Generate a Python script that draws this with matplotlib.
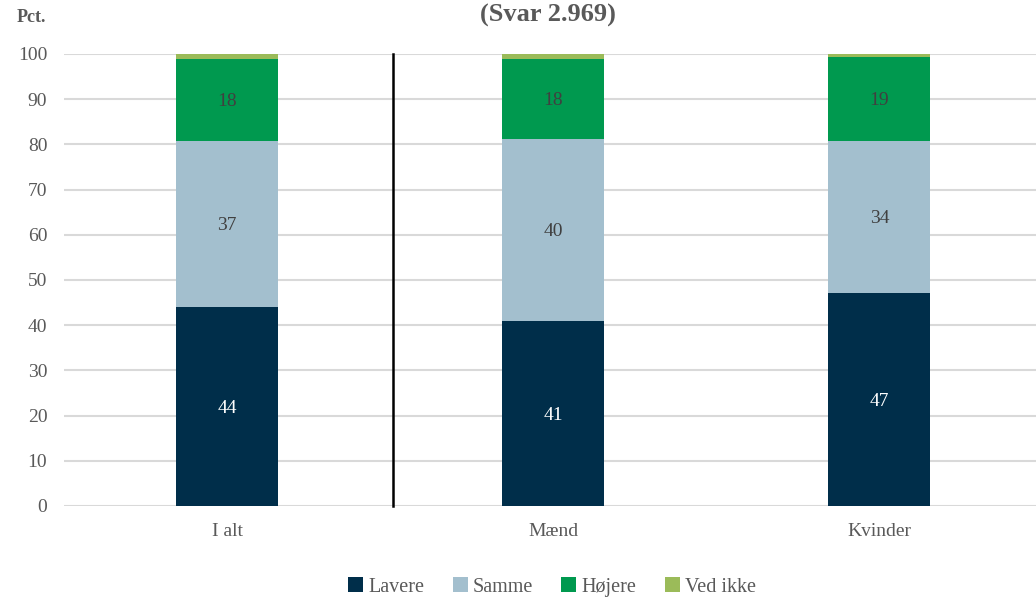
import matplotlib
matplotlib.use("Agg")
import matplotlib.pyplot as plt
import numpy as np

plt.rcParams['font.family'] = ['Liberation Serif', 'DejaVu Serif']

categories = ["I alt", "Mænd", "Kvinder"]
series_names = ["Lavere", "Samme", "Højere", "Ved ikke"]
lavere = [44.0, 40.9, 47.1]
samme = [36.8, 40.3, 33.6]
hojere = [18.1, 17.7, 18.7]
ved_ikke = [1.1, 1.1, 0.7]
colors = ["#002E4A", "#A3BFCE", "#00994F", "#9BBB59"]
label_colors = ["white", "#404040", "#404040", None]
yticks = [0, 10, 20, 30, 40, 50, 60, 70, 80, 90, 100]

fig = plt.figure(figsize=(10.36, 6.0), dpi=100)
ax = fig.add_axes([64/1036, 1-506/600, 1-64/1036, (506-54)/600])

x = np.arange(len(categories))
bottom = np.zeros(len(categories))
handles = []
for vals, name, col, lc in zip([lavere, samme, hojere, ved_ikke], series_names, colors, label_colors):
    vals = np.array(vals)
    b = ax.bar(x, vals, 0.313, bottom=bottom, color=col, label=name, zorder=3)
    handles.append(b)
    if lc is not None:
        for xi, v, bt in zip(x, vals, bottom):
            ax.text(xi, bt + v/2 - 0.4, f"{round(v):d}", ha='center', va='center',
                    color=lc, fontsize=14, zorder=4)
    bottom += vals

ax.set_xlim(-0.5, 2.48)
ax.set_ylim(0, 100)
ax.set_yticks(yticks)
ax.set_yticklabels([str(t) for t in yticks], fontsize=14, color="#595959")
ax.set_xticks(x)
ax.set_xticklabels(categories, fontsize=14, color="#595959")
ax.tick_params(axis='both', length=0)
ax.tick_params(axis='y', pad=12)
ax.tick_params(axis='x', pad=12)
ax.grid(axis='y', color="#D9D9D9", linewidth=1.5, zorder=0)
ax.set_axisbelow(True)
for s in ax.spines.values():
    s.set_visible(False)
ax.axvline(0.51, color="black", linewidth=1.8, zorder=5, clip_on=False)

fig.text(548/1036, 1-15/600, "(Svar 2.969)", ha='center', va='center',
         fontsize=19, fontweight='bold', color="#595959")
fig.text(31/1036, 1-18/600, "Pct.", ha='center', va='center',
         fontsize=13, fontweight='bold', color="#595959")

fig.legend(handles=handles, labels=series_names, loc='center',
           bbox_to_anchor=(552/1036, 1-587/600), ncol=4, frameon=False,
           fontsize=14.5, handlelength=0.75, handleheight=0.75, handletextpad=0.25,
           columnspacing=1.4, labelcolor="#595959")

fig.savefig("out.png", dpi=100)
